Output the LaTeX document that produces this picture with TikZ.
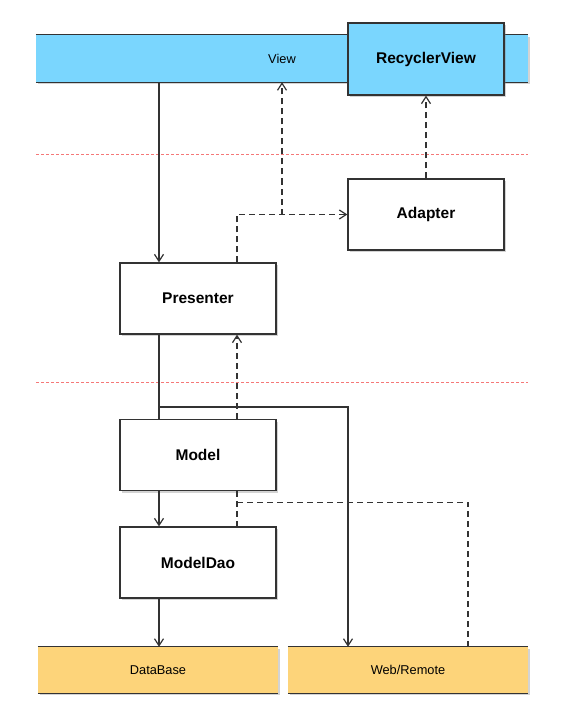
\documentclass[tikz,border=0pt]{standalone}
\usepackage{fontspec}
\setmainfont{Liberation Sans}
\usetikzlibrary{arrows.meta,shadows}
\definecolor{viewblue}{RGB}{122,214,254}
\definecolor{dborange}{RGB}{253,212,122}
\definecolor{linegray}{RGB}{51,51,51}
\definecolor{sepred}{RGB}{245,120,120}
\tikzset{
  boxnode/.style={draw=linegray, fill=white, line width=1.2pt, minimum width=156pt, minimum height=71pt, inner sep=0pt,
     font=\fontsize{15.5}{18}\selectfont\bfseries, drop shadow={shadow xshift=1.5pt, shadow yshift=-2pt, opacity=0.35}},
  bandnode/.style={inner sep=0pt, minimum height=47pt, font=\fontsize{12.8}{15}\selectfont,
     drop shadow={shadow xshift=1.5pt, shadow yshift=-2pt, opacity=0.35}},
  conn/.style={draw=linegray, line width=1.2pt},
  arr/.style={conn, -{Straight Barb[length=7pt,width=9pt]}},
  dconn/.style={conn, dash pattern=on 6pt off 4pt},
  darr/.style={dconn, -{Straight Barb[length=7pt,width=9pt]}},
  sepline/.style={draw=sepred, line width=1pt, dash pattern=on 3pt off 2pt}
}
\begin{document}
\begin{tikzpicture}[x=1pt,y=-1pt]
\useasboundingbox (0,0) rectangle (567,722);
% separators
\draw[sepline] (36,155) -- (528,155);
\draw[sepline] (36,382) -- (528,382);
% view band
\node[bandnode, fill=viewblue, minimum width=492pt] (view) at (282,58.5) {View};
\draw[linegray, line width=1.2pt] (view.north west) -- (view.north east);
\draw[linegray, line width=1.2pt] (view.south west) -- (view.south east);
\node[boxnode, fill=viewblue, minimum height=72pt] (recycler) at (426,59) {RecyclerView};
% boxes
\node[boxnode] (adapter) at (426,214.5) {Adapter};
\node[boxnode] (presenter) at (198,298.5) {Presenter};
\node[boxnode] (model) at (198,455) {Model};
\node[boxnode] (modeldao) at (198,562.5) {ModelDao};
% bottom bands
\node[bandnode, fill=dborange, minimum width=240pt, minimum height=46pt] (database) at (158,670) {DataBase};
\draw[linegray, line width=1.2pt] (database.north west) -- (database.north east);
\draw[linegray, line width=1.2pt] (database.south west) -- (database.south east);
\node[bandnode, fill=dborange, minimum width=240pt, minimum height=46pt] (web) at (408,670) {Web/Remote};
\draw[linegray, line width=1.2pt] (web.north west) -- (web.north east);
\draw[linegray, line width=1.2pt] (web.south west) -- (web.south east);
% helper coordinates
\coordinate (pNL) at ([xshift=-39pt]presenter.north);
\coordinate (pNR) at ([xshift=39pt]presenter.north);
\coordinate (pSL) at ([xshift=-39pt]presenter.south);
\coordinate (pSR) at ([xshift=39pt]presenter.south);
\coordinate (mNL) at ([xshift=-39pt]model.north);
\coordinate (mNR) at ([xshift=39pt]model.north);
\coordinate (mSL) at ([xshift=-39pt]model.south);
\coordinate (mSR) at ([xshift=39pt]model.south);
\coordinate (dNL) at ([xshift=-39pt]modeldao.north);
\coordinate (dNR) at ([xshift=39pt]modeldao.north);
\coordinate (dSL) at ([xshift=-39pt]modeldao.south);
\coordinate (mBr) at ([xshift=-39pt,yshift=12pt]model.north);
\coordinate (mBd) at ([xshift=39pt,yshift=-11pt]model.south);
\coordinate (wNL) at ([xshift=-60pt]web.north);
\coordinate (wNR) at ([xshift=60pt]web.north);
% connectors
\draw[arr] (view.south -| pNL) -- (pNL);
\draw[darr] (pNR) |- (adapter.west);
\draw[darr] (adapter.west -| view.south) -- (view.south);
\draw[darr] (adapter.north) -- (recycler.south);
\draw[conn] (pSL) -- (mNL);
\draw[arr] (mBr) -| (wNL);
\draw[darr] (mNR) -- (pSR);
\draw[arr] (mSL) -- (dNL);
\draw[dconn] (mSR) -- (dNR);
\draw[dconn] (mBd) -| (wNR);
\draw[arr] (dSL) -- (dSL |- database.north);
\end{tikzpicture}
\end{document}
